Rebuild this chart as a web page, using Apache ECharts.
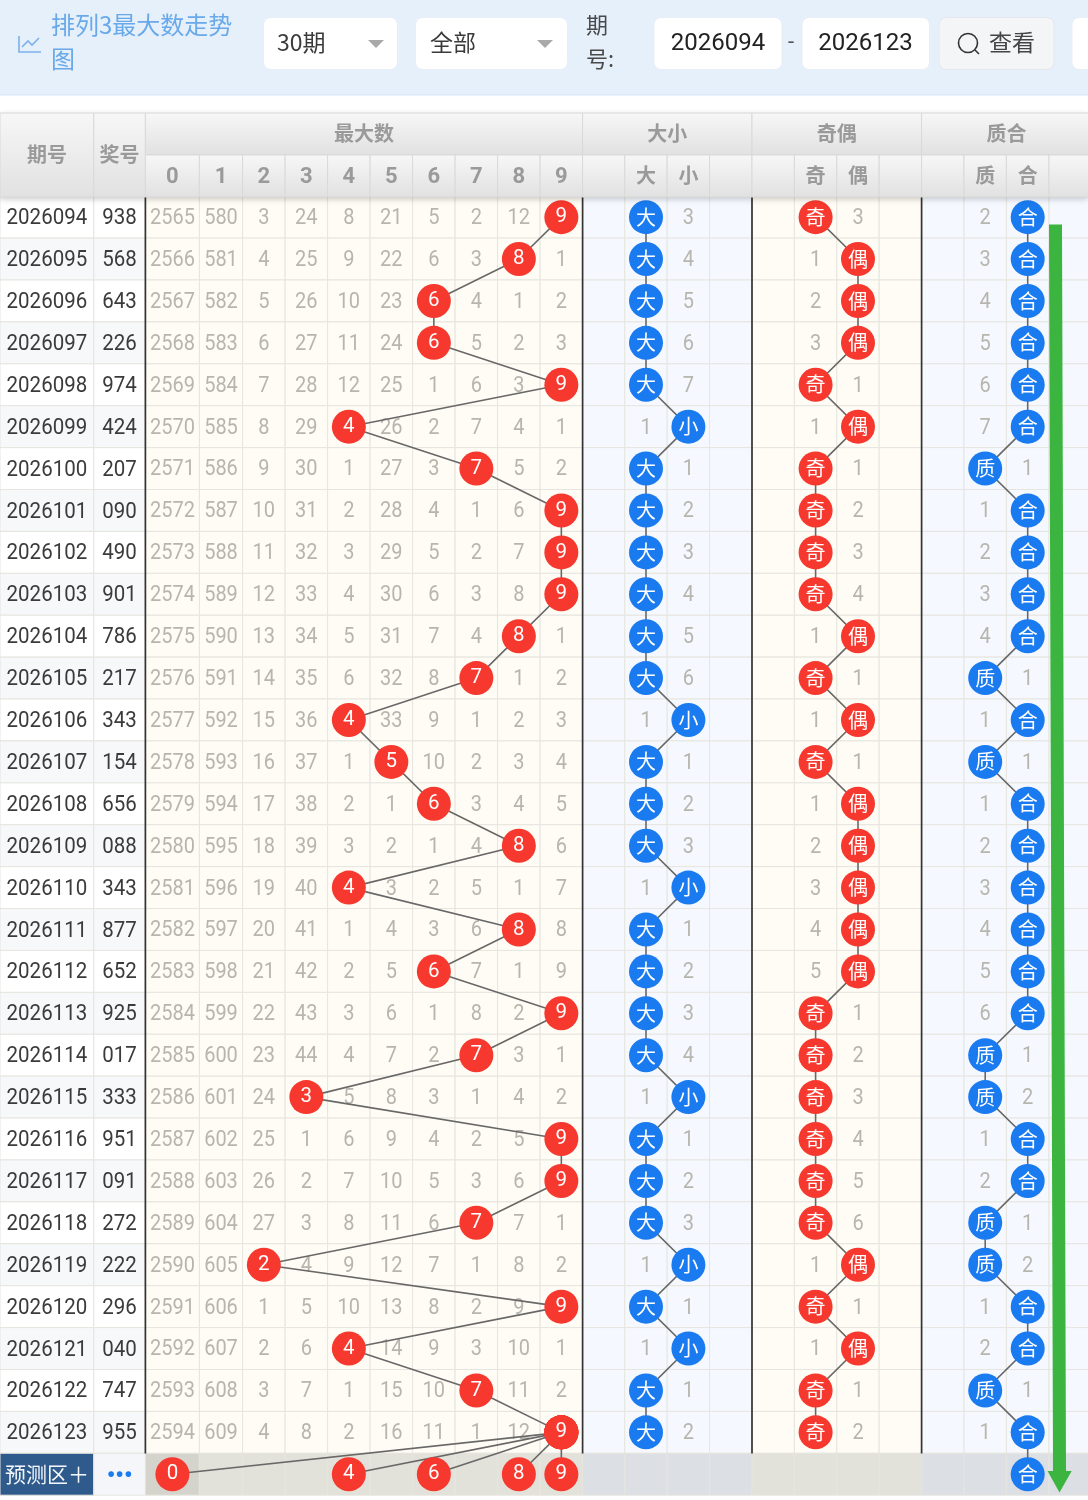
<!DOCTYPE html>
<html>
<head>
<meta charset="utf-8">
<style>html,body{margin:0;padding:0;background:#fff}#c{width:1088px;height:1500px}</style>
<script src="https://cdn.jsdelivr.net/npm/echarts@6/dist/echarts.min.js"></script>
</head>
<body>
<div id="c"></div>
<script>
// ---------- data ----------
const periods = ['2026094','2026095','2026096','2026097','2026098','2026099','2026100','2026101','2026102','2026103','2026104','2026105','2026106','2026107','2026108','2026109','2026110','2026111','2026112','2026113','2026114','2026115','2026116','2026117','2026118','2026119','2026120','2026121','2026122','2026123'];
const awards = ['938','568','643','226','974','424','207','090','490','901','786','217','343','154','656','088','343','877','652','925','017','333','951','091','272','222','296','040','747','955'];
const maxDigit = [9,8,6,6,9,4,7,9,9,9,8,7,4,5,6,8,4,8,6,9,7,3,9,9,7,2,9,4,7,9];
const digitMiss = [
 [2565,580,3,24,8,21,5,2,12,null],
 [2566,581,4,25,9,22,6,3,null,1],
 [2567,582,5,26,10,23,null,4,1,2],
 [2568,583,6,27,11,24,null,5,2,3],
 [2569,584,7,28,12,25,1,6,3,null],
 [2570,585,8,29,null,26,2,7,4,1],
 [2571,586,9,30,1,27,3,null,5,2],
 [2572,587,10,31,2,28,4,1,6,null],
 [2573,588,11,32,3,29,5,2,7,null],
 [2574,589,12,33,4,30,6,3,8,null],
 [2575,590,13,34,5,31,7,4,null,1],
 [2576,591,14,35,6,32,8,null,1,2],
 [2577,592,15,36,null,33,9,1,2,3],
 [2578,593,16,37,1,null,10,2,3,4],
 [2579,594,17,38,2,1,null,3,4,5],
 [2580,595,18,39,3,2,1,4,null,6],
 [2581,596,19,40,null,3,2,5,1,7],
 [2582,597,20,41,1,4,3,6,null,8],
 [2583,598,21,42,2,5,null,7,1,9],
 [2584,599,22,43,3,6,1,8,2,null],
 [2585,600,23,44,4,7,2,null,3,1],
 [2586,601,24,null,5,8,3,1,4,2],
 [2587,602,25,1,6,9,4,2,5,null],
 [2588,603,26,2,7,10,5,3,6,null],
 [2589,604,27,3,8,11,6,null,7,1],
 [2590,605,null,4,9,12,7,1,8,2],
 [2591,606,1,5,10,13,8,2,9,null],
 [2592,607,2,6,null,14,9,3,10,1],
 [2593,608,3,7,1,15,10,null,11,2],
 [2594,609,4,8,2,16,11,1,12,null]
];
const bigSmall = [[null,3],[null,4],[null,5],[null,6],[null,7],[1,null],[null,1],[null,2],[null,3],[null,4],[null,5],[null,6],[1,null],[null,1],[null,2],[null,3],[1,null],[null,1],[null,2],[null,3],[null,4],[1,null],[null,1],[null,2],[null,3],[1,null],[null,1],[1,null],[null,1],[null,2]];
const oddEven = [[null,3],[1,null],[2,null],[3,null],[null,1],[1,null],[null,1],[null,2],[null,3],[null,4],[1,null],[null,1],[1,null],[null,1],[1,null],[2,null],[3,null],[4,null],[5,null],[null,1],[null,2],[null,3],[null,4],[null,5],[null,6],[1,null],[null,1],[1,null],[null,1],[null,2]];
const primeComp = [[2,null],[3,null],[4,null],[5,null],[6,null],[7,null],[null,1],[1,null],[2,null],[3,null],[4,null],[null,1],[1,null],[null,1],[1,null],[2,null],[3,null],[4,null],[5,null],[6,null],[null,1],[null,2],[1,null],[2,null],[null,1],[null,2],[1,null],[2,null],[null,1],[1,null]];
const predictDigits = [0,4,6,8,9];
const digitHeaders = ['0','1','2','3','4','5','6','7','8','9'];
const groupHeaders = ['最大数','大小','奇偶','质合'];
const bsNames = ['大','小'], oeNames = ['奇','偶'], pcNames = ['质','合'];
const predictLabel = '预测区＋', predictDots = '•••';

// ---------- layout ----------
const colWidths = [93.8,51.6,54,43.2,42.5,42.5,42.5,42.5,42.5,42.5,42.5,42.5,42.2,42.4,42.4,42.4,42.4,42.4,42.4,42.4,42.4,42.4,42.6,42.6,39];
const edges = [0]; colWidths.forEach(w => edges.push(edges[edges.length-1] + w));
const center = c => (edges[c] + edges[c+1]) / 2;
const DIGIT0 = 2, BS0 = 13, OE0 = 17, PC0 = 21;
const rowCount = periods.length + 1, predRow = periods.length;
const RED = '#f6382e', BLUE = '#1a7bf0';
const CJK_FAMILY = '"Noto Sans CJK SC","Noto Sans",sans-serif';
const NUM_FAMILY = 'Roboto,"Noto Sans CJK SC",sans-serif';
const CJK = CJK_FAMILY, NUM = NUM_FAMILY;
const NUM_DY = 1.4, NUM_STRETCH = 1.1;

function zone(c){ if(c<2) return 'head'; if(c<12||(c>=16&&c<20)) return 'cream'; return 'blue'; }
function cellFill(c,r){
  const z = zone(c);
  if(r===predRow){
    if(c===0) return '#2e5b8c';
    if(c===1) return '#f4f6f9';
    if(c===DIGIT0) return '#d5d4cc';
    return z==='cream' ? '#e3e2da' : '#dcdfe4';
  }
  if(z==='head') return r%2 ? '#f7f8fa' : '#ffffff';
  return z==='cream' ? '#fefcf4' : '#f5f9ff';
}
const cellData = [];
for(let r=0;r<rowCount;r++) for(let c=0;c<colWidths.length;c++) cellData.push([c,r]);

function textSeries(name,items,color,font,z){
  return {
    type:'custom', name, silent:true, z, animation:false, clip:false,
    data: items.map(i=>[i.x,i.r]), encode:{x:0,y:1},
    renderItem(p,api){
      const it = items[p.dataIndex];
      const pt = api.coord([it.x,it.r]);
      return {type:'text',silent:true,x:pt[0],y:pt[1]+(it.dy===undefined?NUM_DY:it.dy),scaleY:it.plain?1:NUM_STRETCH,
        style:{text:it.t,x:0,y:0,align:'center',verticalAlign:'middle',font:it.font||font,fill:it.color||color}};
    }
  };
}
function hitSeries(name,points,color,size,family,pad,z){
  return {
    type:'line', name, silent:true, z, animation:false, clip:false,
    symbol:'circle', symbolSize:34, showSymbol:true, showAllSymbol:true,
    lineStyle:{color:'#686868',width:1.6}, itemStyle:{color},
    label:{show:true,position:'inside',padding:[pad,0,0,0],color:'#fff',fontSize:size,fontFamily:family,formatter:p=>p.data.t},
    labelLayout:{hideOverlap:false},
    emphasis:{disabled:true},
    data: points.map(p=>({value:[p.x,p.r],t:p.t}))
  };
}

// text cells
const idItems = periods.map((t,r)=>({x:center(0),r,t})).concat([{x:center(0),r:predRow,t:predictLabel,color:'#f4f7fb',font:'21px '+CJK,dy:0,plain:true}]);
const awardItems = awards.map((t,r)=>({x:center(1),r,t})).concat([{x:center(1),r:predRow,t:predictDots,color:BLUE,font:'bold 24px '+NUM,dy:3,plain:true}]);
const missItems = [];
digitMiss.forEach((row,r)=>row.forEach((v,d)=>{ if(v!==null) missItems.push({x:center(DIGIT0+d),r,t:String(v)}); }));
function addPair(tbl,c0){ tbl.forEach((row,r)=>row.forEach((v,i)=>{ if(v!==null) missItems.push({x:center(c0+i),r,t:String(v)}); })); }
addPair(bigSmall,BS0); addPair(oddEven,OE0); addPair(primeComp,PC0);

// hit paths
const digitPts = maxDigit.map((d,r)=>({x:center(DIGIT0+d),r,t:String(d)}));
function pairPts(tbl,c0,names){ return tbl.map((row,r)=>{ const i=row[0]===null?0:1; return {x:center(c0+i),r,t:names[i]}; }); }
const bsPts = pairPts(bigSmall,BS0,bsNames);
const oePts = pairPts(oddEven,OE0,oeNames);
const pcPts = pairPts(primeComp,PC0,pcNames);
pcPts.push({x:center(PC0+1),r:predRow,t:pcNames[1]});

const series = [
  { type:'custom', name:'cells', silent:true, z:1, animation:false, clip:false,
    data:cellData, encode:{x:0,y:1},
    renderItem(p,api){
      const [c,r] = cellData[p.dataIndex];
      const a = api.coord([edges[c],r]), b = api.coord([edges[c+1],r]);
      const h = api.size([0,1])[1];
      return {type:'rect',silent:true,shape:{x:a[0],y:a[1]-h/2,width:b[0]-a[0],height:h},
        style:{fill:cellFill(c,r),stroke:'#e6e5df',lineWidth:1}};
    }},
  textSeries('期号',idItems,'#3b3b3b','20.5px '+NUM,3),
  textSeries('奖号',awardItems,'#3b3b3b','20.5px '+NUM,3),
  textSeries('遗漏',missItems,'#b7b6ae','20px '+NUM,3),
  hitSeries('最大数',digitPts,RED,20.5,NUM_FAMILY,3.6,6)
];
predictDigits.forEach(d=>{
  series.push(hitSeries('预测'+d,[digitPts[digitPts.length-1],{x:center(DIGIT0+d),r:predRow,t:String(d)}],RED,20.5,NUM_FAMILY,3.6,5));
});
series.push(hitSeries('大小',bsPts,BLUE,20,CJK_FAMILY,0,6));
series.push(hitSeries('奇偶',oePts,RED,20,CJK_FAMILY,0,6));
series.push(hitSeries('质合',pcPts,BLUE,20,CJK_FAMILY,0,6));

// ---------- furniture ----------
const G = [];
const T = (text,x,y,font,fill,align,z) => G.push({type:'text',silent:true,z:z||30,style:{text,x,y,font,fill,align:align||'left',verticalAlign:'middle'}});
const box = (x,y,w,h,fill,stroke,r,z) => G.push({type:'rect',silent:true,z:z||29,shape:{x,y,width:w,height:h,r:r||0},style:{fill,stroke:stroke||null,lineWidth:1}});
// toolbar
box(-20,-20,1128,115,'#e6f0fb','#d3e3f7',[0,0,0,18]);
G.push({type:'polyline',silent:true,z:30,shape:{points:[[19,36],[19,52],[41,52]]},style:{stroke:'#7db1ea',lineWidth:1.6,fill:null}});
G.push({type:'polyline',silent:true,z:30,shape:{points:[[22,47],[28,41],[32,45],[39,38]]},style:{stroke:'#7db1ea',lineWidth:1.6,fill:null}});
T('排列3最大数走势',51,25,'24px '+CJK,'#69a9ea');
T('图',51,59,'24px '+CJK,'#69a9ea');
box(263.5,17.5,134,52,'#fff','#e7eef6',7);
T('30期',277,42,'23px '+CJK,'#3a3a3a');
G.push({type:'polygon',silent:true,z:30,shape:{points:[[368,40],[384,40],[376,48]]},style:{fill:'#a9a9a9'}});
box(415.5,17.5,152,52,'#fff','#e7eef6',7);
T('全部',430,42,'23px '+CJK,'#3a3a3a');
G.push({type:'polygon',silent:true,z:30,shape:{points:[[537,40],[553,40],[545,48]]},style:{fill:'#a9a9a9'}});
T('期',586,25,'22px '+CJK,'#4a4a4a');
T('号:',586,59,'22px '+CJK,'#4a4a4a');
box(654,17.5,128,52,'#fff','#e7eef6',7);
T('2026094',718,43.5,'24px '+NUM,'#222','center');
T('-',791,43,'22px '+NUM,'#555','center');
box(802,17.5,127.5,52,'#fff','#e7eef6',7);
T('2026123',865.5,43.5,'24px '+NUM,'#222','center');
box(939,17.5,115,52,'#f4f5f6','#e4e8ec',7);
G.push({type:'circle',silent:true,z:30,shape:{cx:968,cy:43,r:9.5},style:{fill:null,stroke:'#333',lineWidth:1.6}});
G.push({type:'line',silent:true,z:30,shape:{x1:975,y1:50,x2:979,y2:54},style:{stroke:'#333',lineWidth:1.6}});
T('查看',1012,42,'23px '+CJK,'#444','center');
box(1072,17.5,40,52,'#fff','#e7eef6',7);
// header
const grad = () => ({type:'linear',x:0,y:0,x2:0,y2:1,colorStops:[{offset:0,color:'#f7f7f7'},{offset:1,color:'#e1e1e1'}]});
const HT=113, HM=155, HB=197;
const HS='#d9d9d9', HC='#9a9a9a';
G.push({type:'rect',silent:true,z:28,shape:{x:0,y:HT,width:1088,height:HB-HT},style:{fill:'#e8e8e8',shadowBlur:6,shadowColor:'rgba(0,0,0,0.22)',shadowOffsetY:2}});
const hb = (x0,x1,y0,y1)=>box(x0,y0,x1-x0,y1-y0,grad(),HS);
hb(edges[0],edges[1],HT,HB); T('期号',center(0),154,'bold 20px '+CJK,HC,'center');
hb(edges[1],edges[2],HT,HB); T('奖号',center(1),154,'bold 20px '+CJK,HC,'center');
const groups = [[2,12],[12,16],[16,20],[20,25]];
groups.forEach((g,i)=>{
  hb(edges[g[0]],edges[g[1]],HT,HM);
  const x = i===3 ? (edges[20]+edges[24])/2 : (edges[g[0]]+edges[g[1]])/2;
  T(groupHeaders[i],x,133,'bold 20px '+CJK,HC,'center');
});
for(let c=2;c<25;c++) hb(edges[c],edges[c+1],HM,HB);
digitHeaders.forEach((t,d)=>T(t,center(DIGIT0+d),177,'bold 22px '+NUM,HC,'center'));
bsNames.forEach((t,i)=>T(t,center(BS0+i),175.5,'bold 20px '+CJK,HC,'center'));
oeNames.forEach((t,i)=>T(t,center(OE0+i),175.5,'bold 20px '+CJK,HC,'center'));
pcNames.forEach((t,i)=>T(t,center(PC0+i),175.5,'bold 20px '+CJK,HC,'center'));
// dark separators between zones
[2,12,16,20].forEach(c=>G.push({type:'line',silent:true,z:20,shape:{x1:edges[c],y1:HB,x2:edges[c],y2:1453.5},style:{stroke:'#333',lineWidth:1.7}}));
// green arrow
G.push({type:'polygon',silent:true,z:25,shape:{points:[[1049,224.5],[1062,224.5],[1066,1471],[1071.7,1471],[1059.5,1492.5],[1047.5,1471],[1053,1471]]},style:{fill:'#3bb53f'}});

const chart = echarts.init(document.getElementById('c'),null,{width:1088,height:1500});
chart.setOption({
  animation:false,
  backgroundColor:'#ffffff',
  grid:{left:0,top:196.2,width:1088,height:1299},
  xAxis:{type:'value',min:0,max:1088,show:false,splitLine:{show:false}},
  yAxis:{type:'category',inverse:true,show:false,boundaryGap:true,data:periods.concat([predictLabel])},
  tooltip:{show:false},
  series,
  graphic:{elements:G}
});
</script>
</body>
</html>
